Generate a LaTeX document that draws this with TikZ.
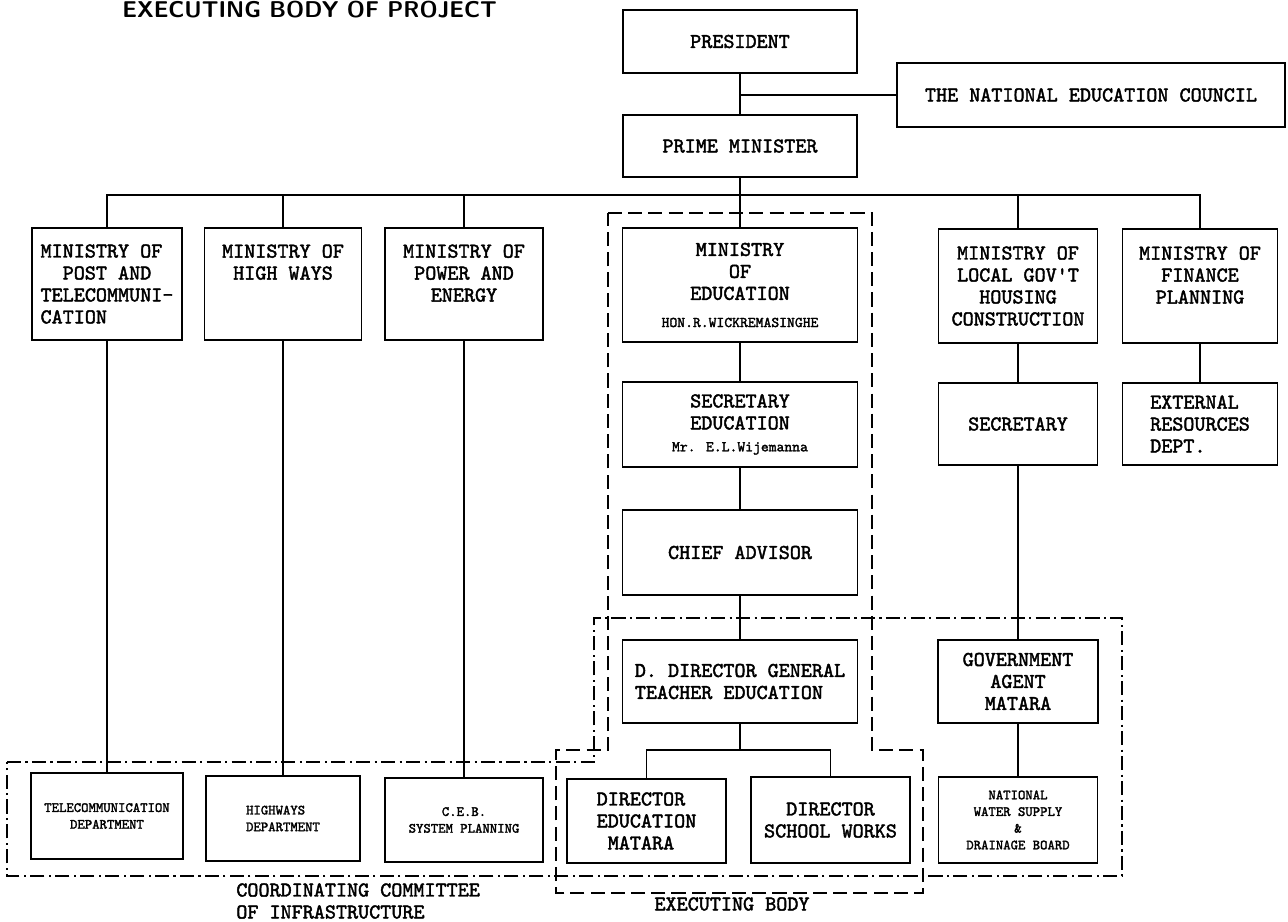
\documentclass[tikz,border=0pt]{standalone}
\usepackage{fontspec}
\newfontfamily\chartfont{lmmono10-regular}[Extension=.otf, FakeBold=2]
\begin{document}
\begin{tikzpicture}[
    x=0.02cm, y=-0.02cm,
    box/.style={draw, line width=1pt, align=center, inner sep=2pt, font=\chartfont\fontsize{12}{12.5}\selectfont},
    smallbox/.style={box, font=\chartfont\fontsize{8}{9.5}\selectfont},
    link/.style={line width=1pt},
    execline/.style={line width=1pt, dash pattern=on 8pt off 3.5pt},
    coordline/.style={line width=1pt, dash pattern=on 8pt off 2.5pt on 1.2pt off 2.5pt},
    caption/.style={font=\chartfont\fontsize{12}{12.5}\selectfont, inner sep=0pt},
]
\useasboundingbox (0,0) rectangle (1288,922);

% Title
\node[font=\sffamily\bfseries\fontsize{13}{15}\selectfont, anchor=base west, inner sep=0pt] (title) at (122,18) {EXECUTING BODY OF PROJECT};

% Top of the chart
\node[box, minimum width=4.68cm, minimum height=1.26cm] (pres) at (740,41.5) {PRESIDENT};
\node[box, minimum width=7.76cm, minimum height=1.28cm] (nec) at (1091,95) {THE NATIONAL EDUCATION COUNCIL};
\node[box, minimum width=4.68cm, minimum height=1.24cm] (pm) at (740,146) {PRIME MINISTER};

% Ministries
\node[box, align=left, minimum width=3.0cm, minimum height=2.24cm] (mpost) at (107,284) {MINISTRY OF\\\hspace{1.05em}POST AND\\TELECOMMUNI-\\CATION};
\node[box, minimum width=3.14cm, minimum height=2.24cm] (mhigh) at (283,284) {MINISTRY OF\\HIGH WAYS\\~\\~};
\node[box, minimum width=3.16cm, minimum height=2.24cm] (mpower) at (464,284) {MINISTRY OF\\POWER AND\\ENERGY\\~};
\node[box, minimum width=4.7cm, minimum height=2.28cm] (medu) at (740,285) {MINISTRY\\OF\\EDUCATION\\[3pt]{\fontsize{8.5}{10}\selectfont HON.R.WICKREMASINGHE}};
\node[box, minimum width=3.18cm, minimum height=2.28cm] (mlocal) at (1018,286) {MINISTRY OF\\LOCAL GOV'T\\HOUSING\\CONSTRUCTION};
\node[box, minimum width=3.1cm, minimum height=2.28cm] (mfin) at (1200,286) {MINISTRY OF\\FINANCE\\PLANNING\\~};

% Education line
\node[box, minimum width=4.7cm, minimum height=1.7cm] (seced) at (740,424.5) {SECRETARY\\EDUCATION\\{\fontsize{8.5}{10}\selectfont Mr. E.L.Wijemanna}};
\node[box, minimum width=4.7cm, minimum height=1.7cm] (chief) at (740,552.5) {CHIEF ADVISOR};
\node[box, align=left, minimum width=4.7cm, minimum height=1.66cm] (ddg) at (740,681.5) {D. DIRECTOR GENERAL\\TEACHER EDUCATION};

% Local government and finance
\node[box, minimum width=3.18cm, minimum height=1.64cm] (sec) at (1018,424) {SECRETARY};
\node[box, align=left, minimum width=3.1cm, minimum height=1.64cm] (extres) at (1200,424) {EXTERNAL\\RESOURCES\\DEPT.};
\node[box, minimum width=3.2cm, minimum height=1.66cm] (gov) at (1018,681.5) {GOVERNMENT\\AGENT\\MATARA};

% Bottom row
\node[smallbox, minimum width=3.04cm, minimum height=1.72cm] (telecom) at (107,816) {TELECOMMUNICATION\\DEPARTMENT};
\node[smallbox, align=left, minimum width=3.08cm, minimum height=1.7cm] (highways) at (283,818.5) {HIGHWAYS\\DEPARTMENT};
\node[smallbox, minimum width=3.16cm, minimum height=1.68cm] (ceb) at (464,820) {C.E.B.\\SYSTEM PLANNING};
\node[box, align=left, minimum width=3.18cm, minimum height=1.68cm] (dedu) at (646.5,821) {DIRECTOR\\EDUCATION\\\hspace{0.525em}MATARA};
\node[box, minimum width=3.18cm, minimum height=1.72cm] (dschool) at (830.5,820) {DIRECTOR\\SCHOOL WORKS};
\node[smallbox, minimum width=3.18cm, minimum height=1.72cm] (nwsdb) at (1018,820) {NATIONAL\\WATER SUPPLY\\\&\\DRAINAGE BOARD};

% Connectors
\coordinate (bus) at (740,195);
\coordinate (fork) at (740,750);
\draw[link] (pres) -- (pm);
\draw[link] (nec.west) -- (nec.west -| pres.south);
\draw[link] (pm) -- (medu);
\foreach \m in {mpost,mhigh,mpower,mlocal,mfin}
    \draw[link] (\m.north) |- (bus);
\draw[link] (mpost) -- (telecom);
\draw[link] (mhigh) -- (highways);
\draw[link] (mpower) -- (ceb);
\draw[link] (medu) -- (seced);
\draw[link] (seced) -- (chief);
\draw[link] (chief) -- (ddg);
\draw[link] (ddg) -- (fork);
\draw[link] (dedu.north) |- (fork) -| (dschool.north);
\draw[link] (mlocal) -- (sec);
\draw[link] (sec) -- (gov);
\draw[link] (gov) -- (nwsdb);
\draw[link] (mfin) -- (extres);

% Executing body and coordinating committee
\draw[execline] (608,213) -- (872,213) -- (872,750) -- (923,750) -- (923,893) -- (556,893) -- (556,750) -- (608,750) -- cycle;
\draw[coordline] (7,762) -- (594,762) -- (594,618) -- (1122,618) -- (1122,876) -- (7,876) -- cycle;
\node[caption, align=left, anchor=north west] (coordlbl) at (236,883) {COORDINATING COMMITTEE\\OF INFRASTRUCTURE};
\node[caption] (execlbl) at (732,904) {EXECUTING BODY};

\end{tikzpicture}
\end{document}
